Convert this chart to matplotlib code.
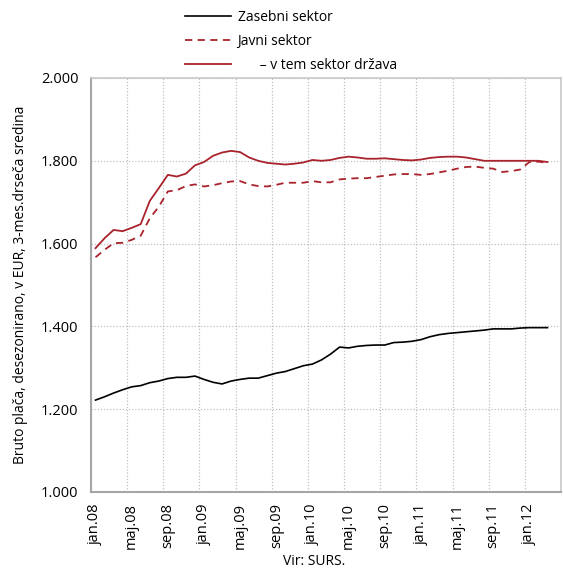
import matplotlib
matplotlib.use("Agg")
import matplotlib.pyplot as plt
import numpy as np

plt.rcParams['font.family'] = ['Open Sans', 'DejaVu Sans']

months = ['jan', 'feb', 'mar', 'apr', 'maj', 'jun', 'jul', 'avg', 'sep', 'okt', 'nov', 'dec']
categories = [f"{m}.{y:02d}" for y in range(8, 13) for m in months][:52]

zasebni = [1222, 1230, 1239, 1247, 1254, 1257, 1264, 1268, 1274, 1277, 1277, 1280,
           1272, 1265, 1261, 1268, 1272, 1275, 1275, 1281, 1287, 1291, 1298, 1305,
           1309, 1319, 1333, 1350, 1348, 1352, 1354, 1355, 1355, 1361, 1362, 1364,
           1368, 1375, 1380, 1383, 1385, 1387, 1389, 1391, 1394, 1394, 1394, 1396,
           1397, 1397, 1397]
javni = [1567, 1585, 1601, 1602, 1609, 1619, 1661, 1689, 1726, 1729, 1739, 1743,
         1738, 1741, 1746, 1750, 1751, 1743, 1739, 1738, 1742, 1747, 1747, 1747,
         1751, 1748, 1748, 1755, 1757, 1758, 1758, 1761, 1764, 1767, 1768, 1768,
         1766, 1768, 1772, 1776, 1781, 1785, 1786, 1783, 1781, 1773, 1775, 1779,
         1797, 1798, 1795]
drzava = [1589, 1613, 1633, 1630, 1638, 1647, 1703, 1734, 1766, 1762, 1769, 1789,
          1797, 1812, 1820, 1824, 1821, 1808, 1800, 1795, 1793, 1791, 1793, 1796,
          1802, 1800, 1802, 1807, 1810, 1808, 1805, 1805, 1806, 1804, 1802, 1801,
          1803, 1807, 1809, 1810, 1810, 1808, 1804, 1800, 1800, 1800, 1800, 1800,
          1800, 1800, 1797]
yticks = [1000, 1200, 1400, 1600, 1800, 2000]
ytick_labels = ['1.000', '1.200', '1.400', '1.600', '1.800', '2.000']

red = '#A8232B'

fig = plt.figure(figsize=(5.63, 5.69), dpi=100)
ax = fig.add_axes([91/563, 1-492/569, (561-91)/563, (492-78)/569])

x = np.arange(len(zasebni))
l1, = ax.plot(x, zasebni, color='black', lw=1.2, label='Zasebni sektor')
l2, = ax.plot(x, javni, color=red, lw=1.3, ls=(0, (4, 3)), label='Javni sektor')
l3, = ax.plot(x, drzava, color=red, lw=1.3, label='      – v tem sektor država')

ax.set_xlim(-0.5, len(categories) - 0.5)
ax.set_ylim(1000, 2000)
ax.set_yticks(yticks)
ax.set_yticklabels(ytick_labels, fontsize=10.5)

tick_idx = list(range(0, len(categories), 4))
ax.set_xticks(tick_idx)
ax.set_xticklabels([categories[i] for i in tick_idx], rotation=90, fontsize=10.5)
ax.set_xticks([i - 0.5 for i in tick_idx], minor=True)
ax.tick_params(axis='both', which='both', length=0)
ax.tick_params(axis='y', pad=9)
ax.tick_params(axis='x', pad=8)

ax.grid(True, which='minor', axis='x', color='#C0C0C0', ls=(0, (1, 1.5)), lw=0.9)
ax.grid(True, which='major', axis='y', color='#C0C0C0', ls=(0, (1, 1.5)), lw=0.9)
ax.set_axisbelow(True)

for s in ['left', 'bottom']:
    ax.spines[s].set_color('#A6A6A6')
    ax.spines[s].set_linewidth(1.5)
for s in ['top', 'right']:
    ax.spines[s].set_color('#C8C8C8')
    ax.spines[s].set_linewidth(1.2)

ax.set_ylabel('Bruto plača, desezonirano, v EUR, 3-mes.drseča sredina', fontsize=10, labelpad=9)
ax.set_xlabel('Vir: SURS.', fontsize=10, labelpad=-2)
ax.xaxis.set_label_coords((314 - 91) / 470, -0.15)

fig.legend(handles=[l1, l2, l3], loc='upper left', bbox_to_anchor=(175/563, 1.0),
           frameon=False, fontsize=10, handlelength=3.3, handletextpad=0.5,
           labelspacing=0.65, borderpad=0.2)

fig.savefig('out.png', dpi=100)
